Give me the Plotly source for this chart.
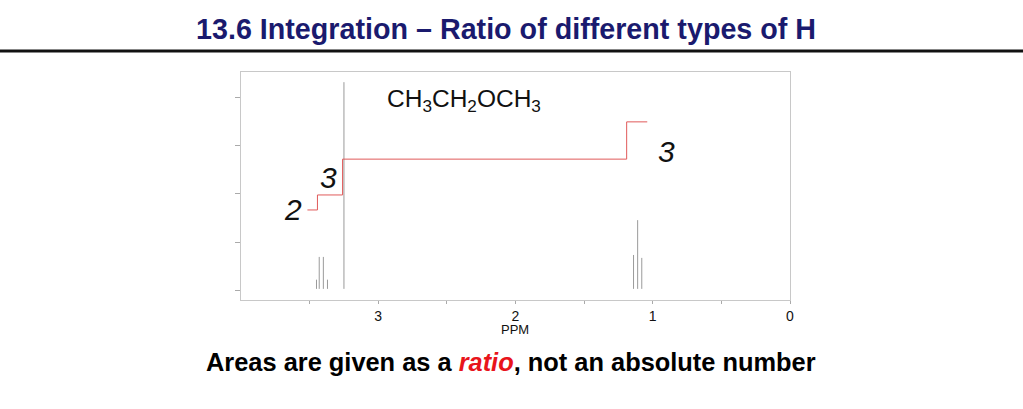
import plotly.graph_objects as go

# ---- data ----
peak_ppm = [3.45, 3.43, 3.40, 3.37, 3.25, 1.14, 1.11, 1.08]
peak_height = [0.23, 0.70, 0.70, 0.23, 4.31, 0.74, 1.46, 0.68]
baseline = 0.04

integral_ppm = [3.516, 3.443, 3.26, 1.19, 1.04]
integral_val = [1.67, 1.98, 2.72, 3.49, 3.49]

x_tickvals = [0, 0.5, 1, 1.5, 2, 2.5, 3, 3.5]
x_ticktext = ["0", "", "1", "", "2", "", "3", ""]
y_tickvals = [0, 1, 2, 3, 4]

area_labels = ["2", "3", "3"]
area_label_ppm = [3.62, 3.36, 0.90]
area_label_val = [1.68, 2.34, 2.88]

title_text = "13.6 Integration – Ratio of different types of H"
formula_text = "CH<sub>3</sub>CH<sub>2</sub>OCH<sub>3</sub>"
footer_text = ("Areas are given as a <i><span style='color:#e8141b'>ratio</span></i>, "
               "not an absolute number")

# ---- figure ----
W, H = 1023, 409
L, R, T, B = 241, 790, 72, 300

def px(x):
    return (x - L) / (R - L)

def py(y):
    return (B - y) / (B - T)

sx, sy = [], []
for p, h in zip(peak_ppm, peak_height):
    sx += [p, p, None]
    sy += [baseline, h, None]

fig = go.Figure()
fig.add_trace(go.Scatter(x=sx, y=sy, mode="lines",
                         line=dict(color="#9a9a9a", width=1),
                         hoverinfo="skip", showlegend=False))
fig.add_trace(go.Scatter(x=integral_ppm, y=integral_val, mode="lines",
                         line=dict(color="#e05a5a", width=1, shape="hv"),
                         hoverinfo="skip", showlegend=False))

for t, xv, yv in zip(area_labels, area_label_ppm, area_label_val):
    fig.add_annotation(x=xv, y=yv, xref="x", yref="y", text="<i>" + t + "</i>",
                       showarrow=False,
                       font=dict(family="Liberation Sans, Arial", size=30, color="#111111"))

fig.add_annotation(x=px(385), y=py(100), xref="paper", yref="paper",
                   text=formula_text, showarrow=False, xanchor="left", yanchor="middle",
                   font=dict(family="Liberation Sans, Arial", size=24.5, color="#111111"))

fig.add_annotation(x=px(506), y=py(29), xref="paper", yref="paper",
                   text="<b>" + title_text + "</b>", showarrow=False,
                   xanchor="center", yanchor="middle",
                   font=dict(family="Liberation Sans, Arial", size=28.7, color="#1a1a6e"))

fig.add_annotation(x=px(511), y=py(362), xref="paper", yref="paper",
                   text="<b>" + footer_text + "</b>", showarrow=False,
                   xanchor="center", yanchor="middle",
                   font=dict(family="Liberation Sans, Arial", size=25.4, color="#000000"))

fig.add_annotation(x=px(515), y=py(329), xref="paper", yref="paper",
                   text="PPM", showarrow=False, xanchor="center", yanchor="middle",
                   font=dict(family="Liberation Sans, Arial", size=13, color="#111111"))

# rule under title
fig.add_shape(type="line", xref="paper", yref="paper",
              x0=px(0), x1=px(W), y0=py(51), y1=py(51),
              line=dict(color="#111111", width=3))

fig.update_xaxes(range=[4.0, 0], tickmode="array", tickvals=x_tickvals,
                 ticktext=x_ticktext, ticks="outside", ticklen=3, tickcolor="#aaaaaa",
                 showline=True, linecolor="#c8c8c8", linewidth=1, mirror=True,
                 showgrid=False, zeroline=False,
                 tickfont=dict(family="Liberation Sans, Arial", size=14, color="#111111"))
fig.update_yaxes(range=[-0.19, 4.52], tickmode="array", tickvals=y_tickvals,
                 showticklabels=False, ticks="outside", ticklen=5, tickcolor="#aaaaaa",
                 showline=True, linecolor="#c8c8c8", linewidth=1, mirror=True,
                 showgrid=False, zeroline=False)

fig.update_layout(width=W, height=H,
                  margin=dict(l=L, r=W - R, t=T, b=H - B, pad=0),
                  paper_bgcolor="white", plot_bgcolor="white",
                  showlegend=False)

fig.write_html("out.html", config={"displayModeBar": False},
               post_script="document.body.style.margin='0px';document.body.style.overflow='hidden';")
